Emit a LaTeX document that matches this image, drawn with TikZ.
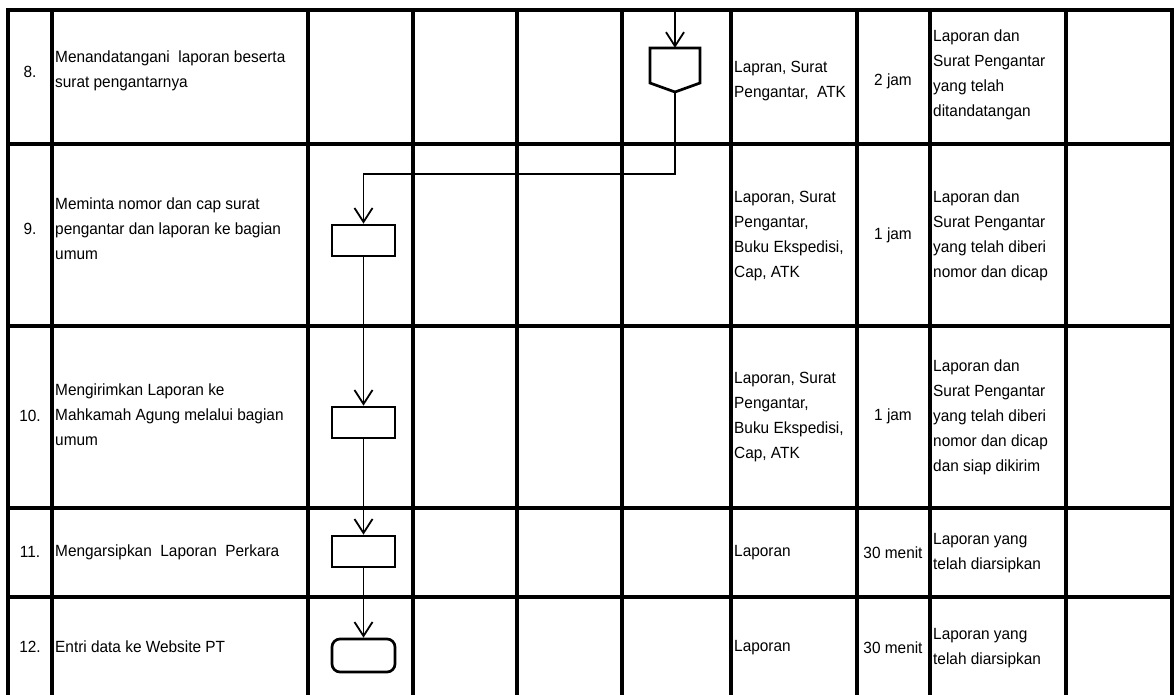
\documentclass[tikz,border=0pt]{standalone}
\usepackage{fontspec}
\setmainfont[FakeStretch=0.95]{Liberation Sans}
\usetikzlibrary{arrows.meta}
\begin{document}
\begin{tikzpicture}[x=1pt,y=-1pt,
  grid/.style={line width=3.2pt, line cap=rect},
  txt/.style={font=\fontsize{16.2}{25}\selectfont, inner sep=0pt, align=left, anchor=west},
  ctr/.style={font=\fontsize{16.2}{25}\selectfont, inner sep=0pt},
  shapeline/.style={line width=2.7pt, line join=miter},
  proc/.style={draw, shapeline, minimum width=63pt, minimum height=31pt, inner sep=0pt},
  term/.style={draw, shapeline, rounded corners=8pt, minimum width=63pt, minimum height=33pt, inner sep=0pt},
  link/.style={line width=1.5pt},
  flow/.style={link, -{Straight Barb[length=14pt,width=18pt,line width=1.8pt]}}]
\useasboundingbox (0,0) rectangle (1174,694);
% grid
\foreach \x in {8,52,308,413,517,622,731,857,930,1066,1172}
  \draw[grid] (\x,10) -- (\x,700);
\foreach \y in {10,144,326,508,597}
  \draw[grid] (8,\y) -- (1172,\y);
% row 8
\node[ctr] (n8) at (30,72) {8.};
\node[txt] (d8) at (55,71) {Menandatangani\ \ laporan beserta\\surat pengantarnya};
\node[txt] (r8) at (734,81) {Lapran, Surat\\Pengantar,\ \ ATK};
\node[ctr] (w8) at (893,81) {2 jam};
\node[txt] (o8) at (933,75) {Laporan dan\\Surat Pengantar\\yang telah\\ditandatangan};
% row 9
\node[ctr] (n9) at (30,229) {9.};
\node[txt] (d9) at (55,229) {Meminta nomor dan cap surat\\pengantar dan laporan ke bagian\\umum};
\node[txt] (r9) at (734,236) {Laporan, Surat\\Pengantar,\\Buku Ekspedisi,\\Cap, ATK};
\node[ctr] (w9) at (893,235) {1 jam};
\node[txt] (o9) at (933,236) {Laporan dan\\Surat Pengantar\\yang telah diberi\\nomor dan dicap};
% row 10
\node[ctr] (n10) at (30,416) {10.};
\node[txt] (d10) at (55,415) {Mengirimkan Laporan ke\\Mahkamah Agung melalui bagian\\umum};
\node[txt] (r10) at (734,417) {Laporan, Surat\\Pengantar,\\Buku Ekspedisi,\\Cap, ATK};
\node[ctr] (w10) at (893,416) {1 jam};
\node[txt] (o10) at (933,417) {Laporan dan\\Surat Pengantar\\yang telah diberi\\nomor dan dicap\\dan siap dikirim};
% row 11
\node[ctr] (n11) at (30,552) {11.};
\node[txt] (d11) at (55,552) {Mengarsipkan\ \ Laporan\ \ Perkara};
\node[txt] (r11) at (734,553) {Laporan};
\node[ctr] (w11) at (893,553) {30 menit};
\node[txt] (o11) at (933,553) {Laporan yang\\telah diarsipkan};
% row 12
\node[ctr] (n12) at (30,647) {12.};
\node[txt] (d12) at (55,647) {Entri data ke Website PT};
\node[txt] (r12) at (734,648) {Laporan};
\node[ctr] (w12) at (893,648) {30 menit};
\node[txt] (o12) at (933,648) {Laporan yang\\telah diarsipkan};
% flowchart shapes
\coordinate (start) at (675,10);
\node[inner sep=0pt, minimum width=50pt, minimum height=44pt] (op) at (675,70) {};
\draw[shapeline] (650,48) -- (700,48) -- (700,83) -- (675,92) -- (650,83) -- cycle;
\node[proc] (p9) at (363.5,240.5) {};
\node[proc] (p10) at (363.5,422.5) {};
\node[proc] (p11) at (363.5,551.5) {};
\node[term] (t12) at (363.5,655.5) {};
% connectors
\coordinate (bend) at (675,174);
\draw[flow] (start) -- (op.north);
\draw[flow] (op.south) -- (bend) -| (p9.north);
\draw[flow] (p9) -- (p10);
\draw[flow] (p10) -- (p11);
\draw[flow] (p11) -- (t12);
\end{tikzpicture}
\end{document}
